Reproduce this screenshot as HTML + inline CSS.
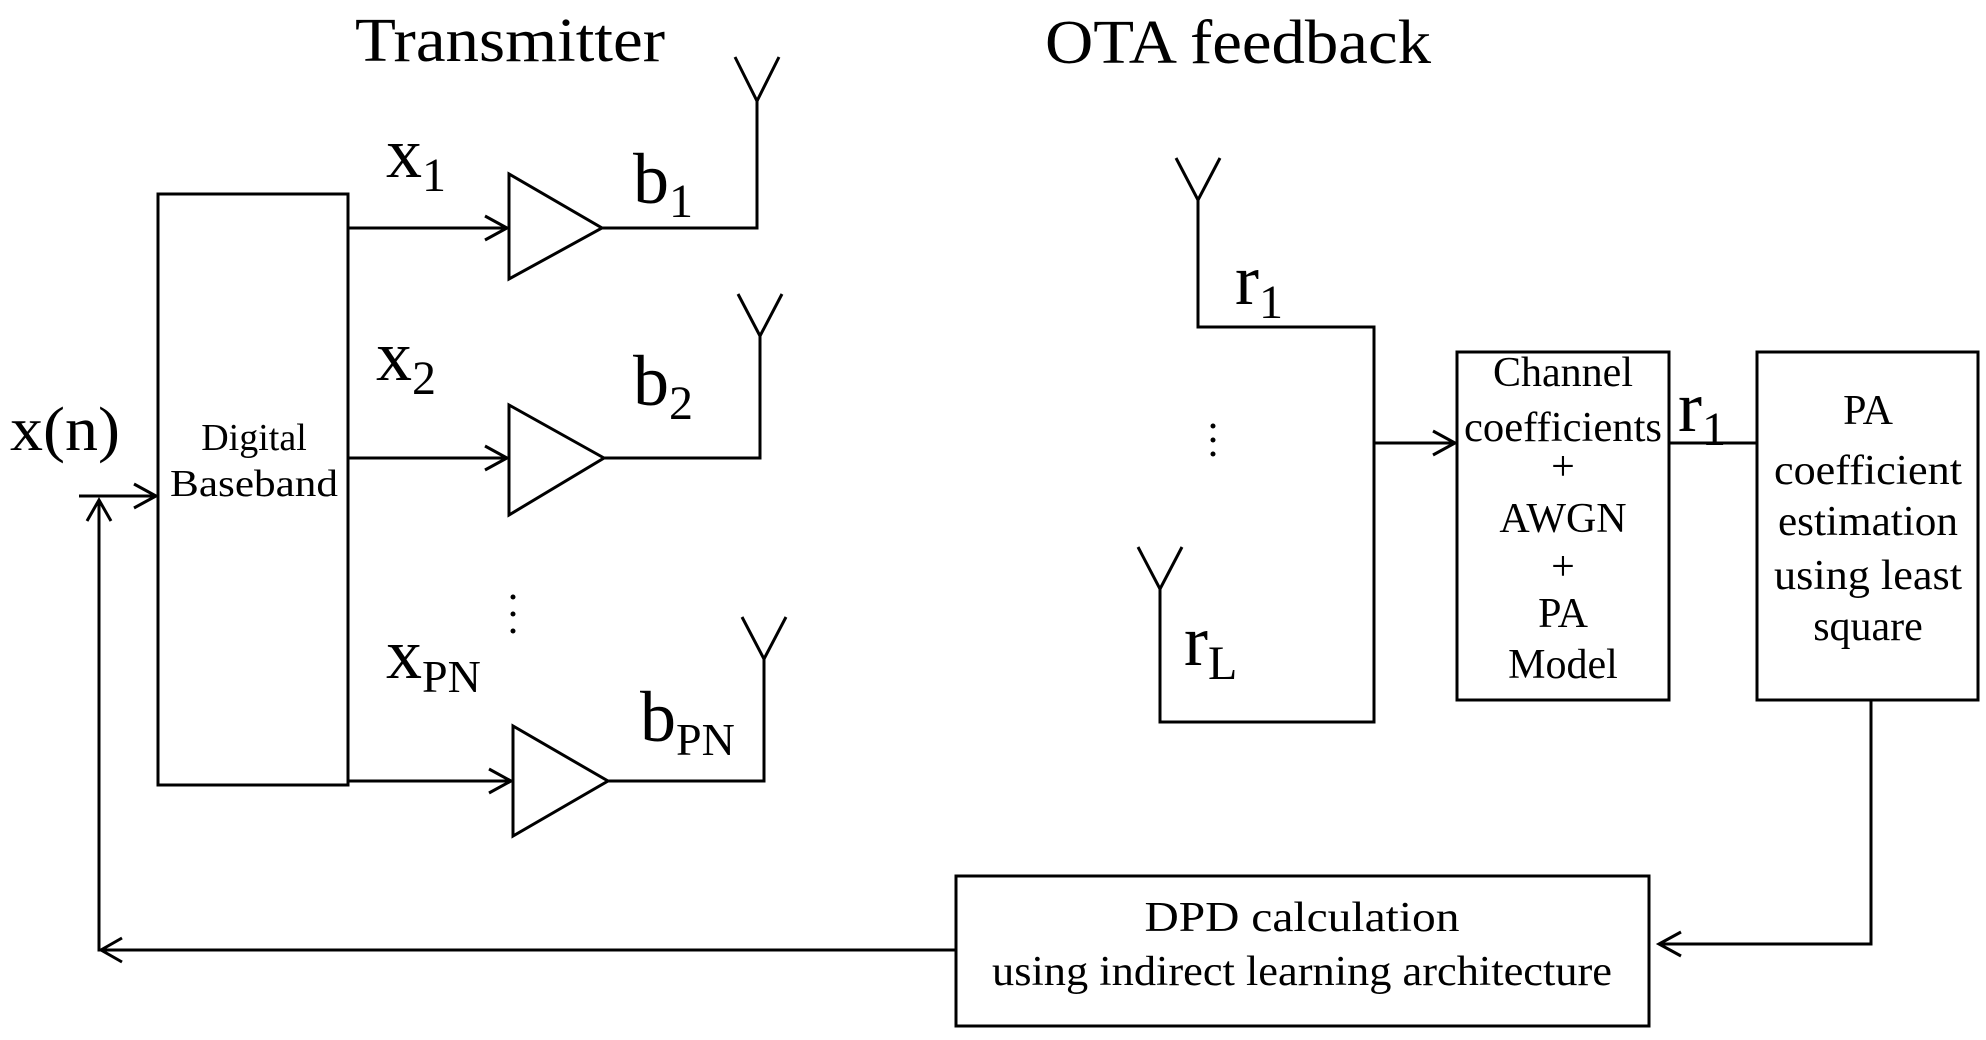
<!DOCTYPE html>
<html><head><meta charset="utf-8"><style>
html,body{margin:0;padding:0;background:#fff;}
svg{display:block;}
text{font-family:"Liberation Serif",serif;fill:#000;}
</style></head><body>
<svg width="1986" height="1040" viewBox="0 0 1986 1040" xmlns="http://www.w3.org/2000/svg">
<g stroke="#000" stroke-width="3" fill="none">
<rect x="158" y="194" width="190" height="591"/>
<line x1="79" y1="496" x2="156" y2="496"/>
<polyline points="134,484 156,496 134,508"/>
<polyline points="99,500 99,950 956,950"/>
<polyline points="87,521 99,500 111,521"/>
<polyline points="122,938 101,950 122,962"/>
<line x1="348" y1="228" x2="507" y2="228"/>
<polyline points="485,216 507,228 485,240"/>
<polygon points="509,174 509,279 602,228"/>
<polyline points="602,228 757,228 757,99"/>
<polyline points="735,57 757,101 779,57"/>
<line x1="348" y1="458" x2="507" y2="458"/>
<polyline points="485,446 507,458 485,470"/>
<polygon points="509,405 509,515 604,458"/>
<polyline points="604,458 760,458 760,334"/>
<polyline points="738,294 760,336 782,294"/>
<line x1="348" y1="781" x2="511" y2="781"/>
<polyline points="489,769 511,781 489,793"/>
<polygon points="513,726 513,836 608,781"/>
<polyline points="608,781 764,781 764,657"/>
<polyline points="742,617 764,659 786,617"/>
<polyline points="1198,198 1198,327 1374,327 1374,722 1160,722 1160,587"/>
<polyline points="1176,158 1198,200 1220,158"/>
<polyline points="1138,547 1160,589 1182,547"/>
<line x1="1374" y1="443" x2="1455" y2="443"/>
<polyline points="1433,431 1455,443 1433,455"/>
<rect x="1457" y="352" width="212" height="348"/>
<line x1="1669" y1="443" x2="1757" y2="443"/>
<rect x="1757" y="352" width="221" height="348"/>
<polyline points="1871,700 1871,944 1659,944"/>
<polyline points="1681,932 1659,944 1681,956"/>
<rect x="956" y="876" width="693" height="150"/>
</g>
<text x="355" y="61" font-size="62" textLength="310" lengthAdjust="spacingAndGlyphs">Transmitter</text>
<text x="1045" y="63" font-size="62" textLength="386" lengthAdjust="spacingAndGlyphs">OTA feedback</text>
<text x="10" y="450" font-size="62" textLength="110" lengthAdjust="spacingAndGlyphs">x(n)</text>
<text x="254" y="450" font-size="38" text-anchor="middle">Digital</text>
<text x="254" y="496" font-size="38" text-anchor="middle" textLength="168" lengthAdjust="spacingAndGlyphs">Baseband</text>
<text x="386" y="177" font-size="72">x<tspan font-size="48" dy="14">1</tspan></text>
<text x="633" y="203" font-size="72">b<tspan font-size="48" dy="14">1</tspan></text>
<text x="376" y="380" font-size="72">x<tspan font-size="48" dy="14">2</tspan></text>
<text x="633" y="405" font-size="72">b<tspan font-size="48" dy="14">2</tspan></text>
<text x="386" y="678" font-size="72">x<tspan font-size="46" dy="14">PN</tspan></text>
<text x="640" y="741" font-size="72">b<tspan font-size="46" dy="14">PN</tspan></text>
<text x="1235" y="304" font-size="72">r<tspan font-size="48" dy="14">1</tspan></text>
<text x="1184" y="665" font-size="72">r<tspan font-size="48" dy="14">L</tspan></text>
<text x="1678" y="431" font-size="72">r<tspan font-size="48" dy="14">1</tspan></text>
<g fill="#000">
<circle cx="513" cy="597" r="2.5"/><circle cx="513" cy="614" r="2.5"/><circle cx="513" cy="631" r="2.5"/>
<circle cx="1213" cy="426" r="2.5"/><circle cx="1213" cy="440" r="2.5"/><circle cx="1213" cy="454" r="2.5"/>
</g>
<g font-size="42" text-anchor="middle">
<text x="1563" y="386">Channel</text>
<text x="1563" y="441" textLength="198" lengthAdjust="spacingAndGlyphs">coefficients</text>
<text x="1563" y="480">+</text>
<text x="1563" y="532">AWGN</text>
<text x="1563" y="580">+</text>
<text x="1563" y="627">PA</text>
<text x="1563" y="678">Model</text>
</g>
<g font-size="42" text-anchor="middle">
<text x="1868" y="424">PA</text>
<text x="1868" y="484" textLength="188" lengthAdjust="spacingAndGlyphs">coefficient</text>
<text x="1868" y="535" textLength="180" lengthAdjust="spacingAndGlyphs">estimation</text>
<text x="1868" y="589" textLength="188" lengthAdjust="spacingAndGlyphs">using least</text>
<text x="1868" y="640">square</text>
</g>
<g font-size="42" text-anchor="middle">
<text x="1302" y="931" textLength="315" lengthAdjust="spacingAndGlyphs">DPD calculation</text>
<text x="1302" y="985" textLength="620" lengthAdjust="spacingAndGlyphs">using indirect learning architecture</text>
</g>
</svg>
</body></html>
